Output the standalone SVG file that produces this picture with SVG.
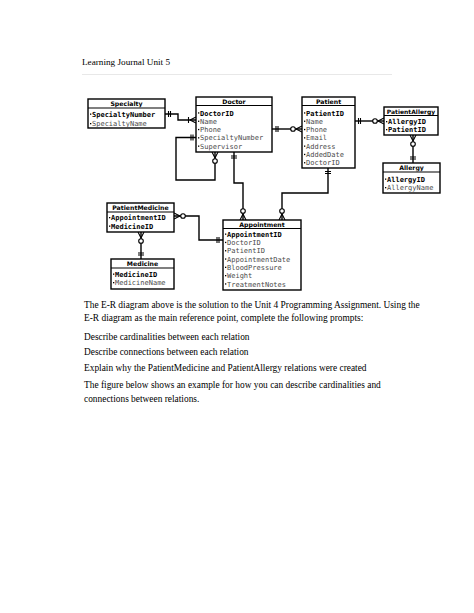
<svg xmlns="http://www.w3.org/2000/svg" width="474" height="613" viewBox="0 0 474 613">
<style>
.box{fill:#fff;stroke:#000;stroke-width:1.4}
.hl{stroke:#000;stroke-width:1.1}
.hdr{font-family:"DejaVu Sans",sans-serif;font-weight:bold;font-size:6.2px;text-anchor:middle;fill:#000}
.key{font-family:"DejaVu Sans Mono",monospace;font-weight:bold;font-size:7px;fill:#000}
.att{font-family:"DejaVu Sans Mono",monospace;font-size:7px;fill:#4a4a4a}
.bul{fill:#000}
.c{fill:none;stroke:#000;stroke-width:1.4}
.m{fill:none;stroke:#000;stroke-width:1.1}
.o{fill:#fff;stroke:#000;stroke-width:1.1}
.doc{font-family:"Liberation Serif","Times New Roman",serif;font-size:9.4px;fill:#000}
</style>
<rect width="474" height="613" fill="#fff"/>
<text class="doc" x="82" y="65" style="font-size:9.2px">Learning Journal Unit 5</text>
<line x1="82" y1="74.5" x2="392" y2="74.5" stroke="#e8e8e8" stroke-width="1"/>

<g id="connectors">
  <path class="c" d="M165,114 H178 V120 H196"/>
  <path class="m" d="M168.5,111 V117 M170.5,111 V117"/>
  <path class="m" d="M190,120 L196,117 M190,120 L196,123 M188.5,117 V123"/>
  <path class="c" d="M196,137.5 H176 V180 H215 V152"/>
  <path class="m" d="M191,134.5 V140.5 M193,134.5 V140.5"/>
  <path class="m" d="M215,158 L212,152 M215,158 L218,152"/>
  <circle class="o" cx="215" cy="161" r="2.3"/>
  <path class="c" d="M234,152 V183 H243 V220"/>
  <path class="m" d="M231,156 H237 M231,158 H237"/>
  <path class="m" d="M243,214 L240,220 M243,214 L246,220"/>
  <circle class="o" cx="243" cy="211" r="2.3"/>
  <path class="c" d="M328,168 V193 H282 V220"/>
  <path class="m" d="M325,171.5 H331 M325,173.5 H331"/>
  <path class="m" d="M282,214 L279,220 M282,214 L285,220"/>
  <circle class="o" cx="282" cy="211" r="2.3"/>
  <path class="c" d="M272,129 H302"/>
  <path class="m" d="M276,126 V132 M278,126 V132"/>
  <path class="m" d="M296,129 L302,126 M296,129 L302,132"/>
  <circle class="o" cx="293" cy="129" r="2.3"/>
  <path class="c" d="M355,121 H384"/>
  <path class="m" d="M358.5,118 V124 M360.5,118 V124"/>
  <path class="m" d="M378,121 L384,118 M378,121 L384,124"/>
  <circle class="o" cx="375" cy="121" r="2.3"/>
  <path class="c" d="M413,135 V163"/>
  <path class="m" d="M413,141 L410,135 M413,141 L416,135"/>
  <circle class="o" cx="413" cy="144" r="2.3"/>
  <path class="m" d="M410,157 H416 M410,159 H416"/>
  <path class="c" d="M141,232 V259"/>
  <path class="m" d="M141,238 L138,232 M141,238 L144,232"/>
  <circle class="o" cx="141" cy="241" r="2.3"/>
  <path class="m" d="M138,253 H144 M138,255 H144"/>
  <path class="c" d="M174,216 H199 V240 H223"/>
  <path class="m" d="M180,216 L174,213 M180,216 L174,219"/>
  <circle class="o" cx="183" cy="216" r="2.3"/>
  <path class="m" d="M217,237 V243 M219,237 V243"/>
</g>

<g id="Specialty">
  <rect class="box" x="88" y="99" width="77" height="29"/>
  <line class="hl" x1="88" y1="108" x2="165" y2="108"/>
  <text class="hdr" x="126.5" y="106">Specialty</text>
  <rect class="bul" x="90" y="113.5" width="1.3" height="1.3"/>
  <text class="key" x="92" y="116.5">SpecialtyNumber</text>
  <rect class="bul" x="90" y="123" width="1.3" height="1.3"/>
  <text class="att" x="92" y="126">SpecialtyName</text>
</g>

<g id="Doctor">
  <rect class="box" x="196" y="97" width="76" height="55"/>
  <line class="hl" x1="196" y1="105.5" x2="272" y2="105.5"/>
  <text class="hdr" x="234" y="103.5">Doctor</text>
  <rect class="bul" x="198" y="112.3" width="1.3" height="1.3"/>
  <text class="key" x="200" y="115.5">DoctorID</text>
  <rect class="bul" x="198" y="120.6" width="1.3" height="1.3"/>
  <text class="att" x="200" y="123.8">Name</text>
  <rect class="bul" x="198" y="128.9" width="1.3" height="1.3"/>
  <text class="att" x="200" y="132.1">Phone</text>
  <rect class="bul" x="198" y="137.2" width="1.3" height="1.3"/>
  <text class="att" x="200" y="140.4">SpecialtyNumber</text>
  <rect class="bul" x="198" y="145.5" width="1.3" height="1.3"/>
  <text class="att" x="200" y="148.7">Supervisor</text>
</g>

<g id="Patient">
  <rect class="box" x="302" y="97" width="53" height="71"/>
  <line class="hl" x1="302" y1="105.5" x2="355" y2="105.5"/>
  <text class="hdr" x="328.5" y="103.5">Patient</text>
  <rect class="bul" x="304" y="112.3" width="1.3" height="1.3"/>
  <text class="key" x="306" y="115.5">PatientID</text>
  <rect class="bul" x="304" y="120.6" width="1.3" height="1.3"/>
  <text class="att" x="306" y="123.8">Name</text>
  <rect class="bul" x="304" y="128.9" width="1.3" height="1.3"/>
  <text class="att" x="306" y="132.1">Phone</text>
  <rect class="bul" x="304" y="137.2" width="1.3" height="1.3"/>
  <text class="att" x="306" y="140.4">Email</text>
  <rect class="bul" x="304" y="145.5" width="1.3" height="1.3"/>
  <text class="att" x="306" y="148.7">Address</text>
  <rect class="bul" x="304" y="153.8" width="1.3" height="1.3"/>
  <text class="att" x="306" y="157">AddedDate</text>
  <rect class="bul" x="304" y="162.1" width="1.3" height="1.3"/>
  <text class="att" x="306" y="165.3">DoctorID</text>
</g>

<g id="PatientAllergy">
  <rect class="box" x="384" y="107" width="54" height="28"/>
  <line class="hl" x1="384" y1="115.5" x2="438" y2="115.5"/>
  <text class="hdr" x="411" y="113.5" style="font-size:6px">PatientAllergy</text>
  <rect class="bul" x="386" y="121" width="1.3" height="1.3"/>
  <text class="key" x="388" y="124.2">AllergyID</text>
  <rect class="bul" x="386" y="129" width="1.3" height="1.3"/>
  <text class="key" x="388" y="132.2">PatientID</text>
</g>

<g id="Allergy">
  <rect class="box" x="383" y="163" width="57" height="30"/>
  <line class="hl" x1="383" y1="172" x2="440" y2="172"/>
  <text class="hdr" x="411.5" y="170">Allergy</text>
  <rect class="bul" x="385" y="178.5" width="1.3" height="1.3"/>
  <text class="key" x="387" y="181.7">AllergyID</text>
  <rect class="bul" x="385" y="187" width="1.3" height="1.3"/>
  <text class="att" x="387" y="190.2">AllergyName</text>
</g>

<g id="Appointment">
  <rect class="box" x="223" y="220" width="78" height="70"/>
  <line class="hl" x1="223" y1="228.5" x2="301" y2="228.5"/>
  <text class="hdr" x="262" y="226.5">Appointment</text>
  <rect class="bul" x="225" y="233.5" width="1.3" height="1.3"/>
  <text class="key" x="227" y="236.7">AppointmentID</text>
  <rect class="bul" x="225" y="241.8" width="1.3" height="1.3"/>
  <text class="att" x="227" y="245">DoctorID</text>
  <rect class="bul" x="225" y="250.1" width="1.3" height="1.3"/>
  <text class="att" x="227" y="253.3">PatientID</text>
  <rect class="bul" x="225" y="258.4" width="1.3" height="1.3"/>
  <text class="att" x="227" y="261.6">AppointmentDate</text>
  <rect class="bul" x="225" y="266.7" width="1.3" height="1.3"/>
  <text class="att" x="227" y="269.9">BloodPressure</text>
  <rect class="bul" x="225" y="275" width="1.3" height="1.3"/>
  <text class="att" x="227" y="278.2">Weight</text>
  <rect class="bul" x="225" y="283.3" width="1.3" height="1.3"/>
  <text class="att" x="227" y="286.5">TreatmentNotes</text>
</g>

<g id="PatientMedicine">
  <rect class="box" x="107" y="203" width="67" height="29"/>
  <line class="hl" x1="107" y1="212" x2="174" y2="212"/>
  <text class="hdr" x="140.5" y="210">PatientMedicine</text>
  <rect class="bul" x="109" y="217" width="1.3" height="1.3"/>
  <text class="key" x="111" y="220.2">AppointmentID</text>
  <rect class="bul" x="109" y="225.5" width="1.3" height="1.3"/>
  <text class="key" x="111" y="228.7">MedicineID</text>
</g>

<g id="Medicine">
  <rect class="box" x="111" y="259" width="63" height="30"/>
  <line class="hl" x1="111" y1="268" x2="174" y2="268"/>
  <text class="hdr" x="142.5" y="266">Medicine</text>
  <rect class="bul" x="113" y="273.5" width="1.3" height="1.3"/>
  <text class="key" x="115" y="276.7">MedicineID</text>
  <rect class="bul" x="113" y="282" width="1.3" height="1.3"/>
  <text class="att" x="115" y="285.2">MedicineName</text>
</g>

<text class="doc" x="84" y="308">The E-R diagram above is the solution to the Unit 4 Programming Assignment. Using the</text>
<text class="doc" x="84" y="321">E-R diagram as the main reference point, complete the following prompts:</text>
<text class="doc" x="84" y="340">Describe cardinalities between each relation</text>
<text class="doc" x="84" y="355">Describe connections between each relation</text>
<text class="doc" x="84" y="371">Explain why the PatientMedicine and PatientAllergy relations were created</text>
<text class="doc" x="84" y="388">The figure below shows an example for how you can describe cardinalities and</text>
<text class="doc" x="84" y="402">connections between relations.</text>
</svg>
